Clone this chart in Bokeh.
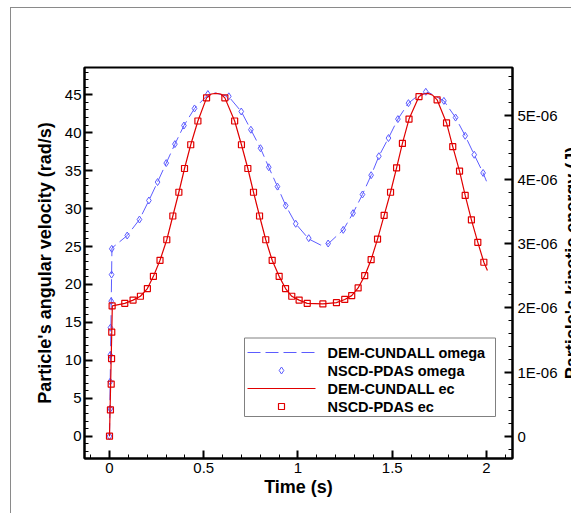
import math
import numpy as np
from bokeh.plotting import figure
from bokeh.models import (Range1d, LinearAxis, FixedTicker, CustomJSTickFormatter,
                          InlineStyleSheet, Label)
from bokeh.core.properties import value
from bokeh.embed import file_html
from bokeh.resources import INLINE

# ---------------- data ----------------
# DEM-CUNDALL omega (line), rad/s
dem_omega_t = [0.0, 0.013, 0.094, 0.159, 0.209, 0.255, 0.301, 0.347, 0.395, 0.451, 0.522, 0.56,
               0.633, 0.699, 0.750, 0.801, 0.845, 0.891, 0.935, 0.988, 1.057, 1.12, 1.160, 1.240,
               1.292, 1.342, 1.388, 1.429, 1.480, 1.530, 1.586, 1.642, 1.694, 1.774, 1.836, 1.887,
               1.935, 1.982, 2.0]
dem_omega = [0.0, 24.8, 26.45, 28.56, 31.07, 33.5, 36.0, 38.5, 40.95, 43.2, 45.0, 45.25,
             44.75, 42.8, 40.4, 37.96, 35.45, 32.9, 30.4, 28.0, 26.0, 25.2, 25.35, 27.2,
             29.4, 31.86, 34.4, 36.9, 39.3, 41.8, 43.9, 45.0, 45.3, 44.2, 42.0, 39.6,
             37.1, 34.7, 33.6]

# NSCD-PDAS omega (markers), rad/s
nscd_omega_t = [0.0, 0.004, 0.004, 0.004, 0.005, 0.009, 0.011, 0.012, 0.094, 0.159, 0.209, 0.255,
                0.301, 0.347, 0.395, 0.451, 0.522, 0.633, 0.699, 0.750, 0.801, 0.845, 0.891,
                0.935, 0.988, 1.057, 1.160, 1.240, 1.292, 1.342, 1.388, 1.429, 1.480, 1.530,
                1.586, 1.678, 1.774, 1.836, 1.887, 1.935, 1.982]
nscd_omega = [0.0, 3.6, 7.2, 10.7, 14.3, 17.8, 21.3, 24.7, 26.45, 28.56, 31.07, 33.5,
              36.0, 38.5, 40.95, 43.2, 45.1, 44.8, 42.8, 40.4, 37.96, 35.45, 32.9,
              30.4, 28.0, 26.1, 25.4, 27.2, 29.4, 31.86, 34.4, 36.9, 39.3, 41.8,
              43.9, 45.4, 44.2, 42.0, 39.6, 37.1, 34.7]

# DEM-CUNDALL ec (line), J
dem_ec_t = [0.0, 0.015, 0.081, 0.125, 0.164, 0.201, 0.233, 0.268, 0.304, 0.336, 0.368, 0.398,
            0.431, 0.469, 0.515, 0.54, 0.565, 0.59, 0.612, 0.664, 0.700, 0.734, 0.764, 0.796,
            0.829, 0.863, 0.900, 0.934, 0.967, 1.006, 1.049, 1.132, 1.204, 1.248, 1.285,
            1.319, 1.354, 1.388, 1.422, 1.457, 1.491, 1.523, 1.554, 1.589, 1.642, 1.665,
            1.69, 1.715, 1.738, 1.788, 1.821, 1.857, 1.887, 1.920, 1.954, 1.986, 2.005]
dem_ec = [0.0, 2.03e-6, 2.07e-6, 2.12e-6, 2.18e-6, 2.30e-6, 2.49e-6, 2.74e-6, 3.06e-6,
          3.43e-6, 3.80e-6, 4.17e-6, 4.54e-6, 4.91e-6, 5.27e-6, 5.33e-6, 5.34e-6, 5.33e-6,
          5.27e-6, 4.91e-6, 4.54e-6, 4.17e-6, 3.80e-6, 3.43e-6, 3.06e-6, 2.74e-6, 2.49e-6,
          2.30e-6, 2.18e-6, 2.12e-6, 2.07e-6, 2.06e-6, 2.08e-6, 2.13e-6, 2.19e-6, 2.31e-6,
          2.50e-6, 2.75e-6, 3.07e-6, 3.44e-6, 3.80e-6, 4.18e-6, 4.56e-6, 4.94e-6, 5.29e-6,
          5.33e-6, 5.34e-6, 5.31e-6, 5.24e-6, 4.88e-6, 4.51e-6, 4.13e-6, 3.75e-6, 3.37e-6,
          3.02e-6, 2.71e-6, 2.58e-6]

# NSCD-PDAS ec (markers), J
nscd_ec_t = [0.0, 0.005, 0.009, 0.011, 0.012, 0.014, 0.081, 0.125, 0.164, 0.201, 0.233, 0.268,
             0.304, 0.336, 0.368, 0.398, 0.431, 0.469, 0.515, 0.612, 0.664, 0.700, 0.734,
             0.764, 0.796, 0.829, 0.863, 0.900, 0.934, 0.967, 1.006, 1.049, 1.132, 1.204,
             1.248, 1.285, 1.319, 1.354, 1.388, 1.422, 1.457, 1.491, 1.523, 1.554, 1.589,
             1.642, 1.738, 1.788, 1.821, 1.857, 1.887, 1.920, 1.954, 1.986]
nscd_ec = [0.0, 0.41e-6, 0.81e-6, 1.21e-6, 1.62e-6, 2.03e-6, 2.07e-6, 2.12e-6, 2.18e-6,
           2.30e-6, 2.49e-6, 2.74e-6, 3.06e-6, 3.43e-6, 3.80e-6, 4.17e-6, 4.54e-6, 4.91e-6,
           5.27e-6, 5.27e-6, 4.91e-6, 4.54e-6, 4.17e-6, 3.80e-6, 3.43e-6, 3.06e-6, 2.74e-6,
           2.49e-6, 2.30e-6, 2.18e-6, 2.12e-6, 2.07e-6, 2.06e-6, 2.08e-6, 2.13e-6, 2.19e-6,
           2.31e-6, 2.50e-6, 2.75e-6, 3.07e-6, 3.44e-6, 3.80e-6, 4.18e-6, 4.56e-6, 4.94e-6,
           5.29e-6, 5.24e-6, 4.88e-6, 4.51e-6, 4.13e-6, 3.75e-6, 3.37e-6, 3.02e-6, 2.71e-6]

legend_labels = ["DEM-CUNDALL omega", "NSCD-PDAS omega", "DEM-CUNDALL ec", "NSCD-PDAS ec"]

x_ticks = [0, 0.5, 1, 1.5, 2]
y_ticks = [0, 5, 10, 15, 20, 25, 30, 35, 40, 45]
ec_ticks = [0, 1e-6, 2e-6, 3e-6, 4e-6, 5e-6]

# ---------------- layout / styling ----------------
FONT = "Liberation Sans"
BLUE = "#5c5cff"
RED = "#e00000"
W, H = 571, 513
BL, BR, BT, BB = 84, 59, 67, 55           # borders around the frame (px)
FW, FH = 428, 391                         # frame size (px)
X0, X1 = -0.1326, 2.138
Y0, Y1 = -2.94, 48.6

p = figure(frame_width=FW, frame_height=FH, output_backend="svg", toolbar_location=None,
           x_range=Range1d(X0, X1), y_range=Range1d(Y0, Y1),
           min_border_left=BL, min_border_right=BR, min_border_top=BT, min_border_bottom=BB)
p.extra_y_ranges = {"ec": Range1d(-0.347e-6, 5.743e-6)}
p.grid.visible = False
p.outline_line_color = "black"
p.outline_line_width = 2
p.outline_line_alpha = 1
p.background_fill_color = "white"
p.border_fill_alpha = 0
# keep the page inside the window and draw the thin grey page frame behind the canvas
p.stylesheets = [InlineStyleSheet(css=(
    ":host { max-width: %dpx; overflow: hidden; background: "
    "linear-gradient(#8a8a8a,#8a8a8a) 10px 7px / 1px calc(100%% - 7px) no-repeat, "
    "linear-gradient(#8a8a8a,#8a8a8a) 10px 7px / calc(100%% - 10px) 1px no-repeat, "
    "#ffffff; }" % W))]

right = LinearAxis(y_range_name="ec")
p.add_layout(right, "right")

def style_axis(ax, ticks, minor):
    ax.ticker = FixedTicker(ticks=ticks, minor_ticks=minor)
    ax.axis_line_width = 2
    ax.axis_line_color = "black"
    ax.major_tick_in = 8
    ax.major_tick_out = 0
    ax.major_tick_line_width = 2
    ax.minor_tick_in = 4
    ax.minor_tick_out = 0
    ax.minor_tick_line_width = 1
    ax.major_label_text_font = FONT
    ax.major_label_text_font_size = "15px"
    ax.major_label_text_color = "black"
    ax.axis_label_text_font = FONT
    ax.axis_label_text_font_size = "18px"
    ax.axis_label_text_font_style = "bold"
    ax.axis_label_text_color = "black"

xa = p.xaxis[0]
style_axis(xa, x_ticks, list(np.round(np.arange(-0.1, 2.15, 0.1), 2)))
xa.formatter = CustomJSTickFormatter(code="return String(tick);")
xa.axis_label = "Time (s)"
xa.major_label_standoff = 4
xa.axis_label_standoff = 1

ya = p.yaxis[0]
style_axis(ya, y_ticks, list(range(-2, 49)))
ya.axis_label = "Particle's angular velocity (rad/s)"
ya.major_label_standoff = 3
ya.axis_label_standoff = 7

style_axis(right, ec_ticks, list(np.arange(-0.2e-6, 5.75e-6, 0.2e-6)))
right.formatter = CustomJSTickFormatter(
    code="if (Math.abs(tick) < 1e-12) { return '0'; } return Math.round(tick*1e6) + 'E-06';")
right.major_label_standoff = 5

# right-axis title: reads bottom-to-top and runs off the page edge, as in the reference
p.add_layout(Label(x=W - 10, y=BT + FH / 2, x_units="canvas", y_units="canvas",
                   text="Particle's kinetic energy (J)", angle=math.pi / 2,
                   text_align="center", text_baseline="top", text_font=FONT,
                   text_font_size="18px", text_font_style="bold", text_color="black"),
             "right")

# ---------------- glyphs ----------------
p.line(dem_omega_t, dem_omega, line_color=BLUE, line_width=1, line_dash="13 5")
p.scatter(nscd_omega_t, nscd_omega, marker="diamond", size=7,
          line_color=BLUE, fill_color=None, line_width=1)
p.line(dem_ec_t, dem_ec, line_color=RED, line_width=1.2, y_range_name="ec")
p.scatter(nscd_ec_t, nscd_ec, marker="square", size=6, line_color=RED,
          fill_color=None, line_width=1.2, y_range_name="ec")

# ---------------- legend (drawn box, swatches and labels) ----------------
def fx(px):   # pixel offset from the frame's left edge -> x data
    return X0 + px * (X1 - X0) / FW

def fy(py):   # pixel offset from the frame's bottom edge -> left-axis data
    return Y0 + py * (Y1 - Y0) / FH

LB_L, LB_R, LB_B, LB_T = 160, 411, 42, 120.5      # legend box, px from frame
ROW0, ROW = 106, 18                               # first row centre, row pitch
G0, G1, TX = 163, 231, 243                        # swatch span, label start
rows = [fy(ROW0 - i * ROW) for i in range(4)]

p.quad(left=[fx(LB_L)], right=[fx(LB_R)], bottom=[fy(LB_B)], top=[fy(LB_T)],
       fill_color="white", line_color="#808080", line_width=1)
p.segment(x0=[fx(G0)], y0=[rows[0]], x1=[fx(G1)], y1=[rows[0]],
          line_color=BLUE, line_width=1, line_dash="13 5")
p.scatter(x=[fx((G0 + G1) / 2)], y=[rows[1]], marker="diamond", size=7,
          line_color=BLUE, fill_color=None, line_width=1)
p.segment(x0=[fx(G0)], y0=[rows[2]], x1=[fx(G1)], y1=[rows[2]],
          line_color=RED, line_width=1.2)
p.scatter(x=[fx((G0 + G1) / 2)], y=[rows[3]], marker="square", size=6,
          line_color=RED, fill_color=None, line_width=1.2)
p.text(x=[fx(TX)] * 4, y=rows, text=legend_labels, text_font=value(FONT),
       text_font_size="14.5px", text_font_style="bold", text_color="black",
       text_baseline="middle", text_align="left")

open("out.html", "w").write(file_html(p, INLINE))
